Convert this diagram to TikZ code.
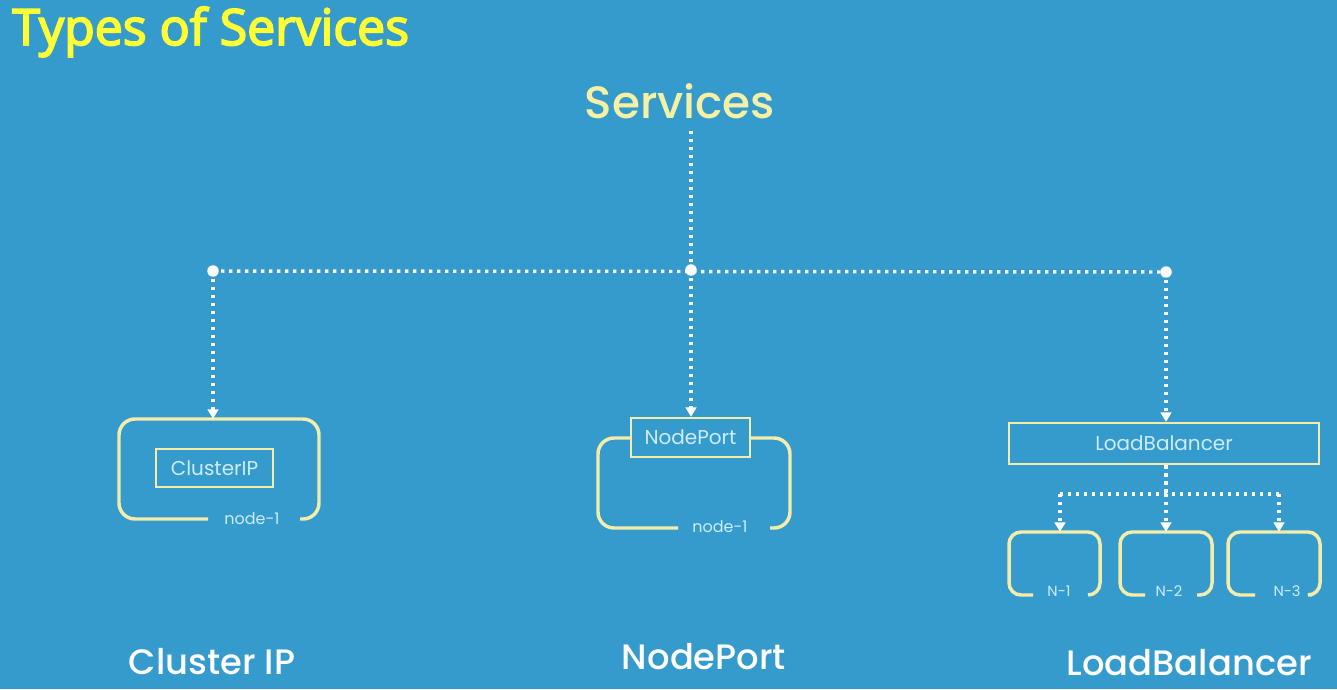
\documentclass[tikz,border=0pt]{standalone}
\usepackage{fontspec}
\setmainfont{Poppins}
\newfontfamily\medfont{Poppins Medium}
\newfontfamily\titlefont{Open Sans}[FakeBold=3.5]
\usetikzlibrary{arrows.meta}
\definecolor{bg}{RGB}{53,155,204}
\definecolor{titleyellow}{RGB}{255,255,51}
\definecolor{paleyellow}{RGB}{246,240,165}
\definecolor{outline}{RGB}{244,236,170}
\definecolor{innertext}{RGB}{205,236,250}
\begin{document}
\begin{tikzpicture}[x=0.75pt,y=-0.75pt,
  dotline/.style={white,line width=2.6pt,dash pattern=on 2.6pt off 3.4pt},
  arrowline/.style={dotline,-{Triangle[width=8pt,length=7pt]}},
  bracket/.style={outline,line width=2.6pt,rounded corners=12pt},
  smallbracket/.style={outline,line width=2.6pt,rounded corners=9pt},
  innerbox/.style={draw=outline,line width=1.8pt,text=innertext,inner sep=0pt,font=\fontsize{15}{16}\selectfont},
  ghost/.style={inner sep=0pt,draw=none},
  smalllabel/.style={text=innertext,inner sep=0pt,font=\fontsize{12}{13}\selectfont},
  tinylabel/.style={text=innertext,inner sep=0pt,font=\fontsize{11}{12}\selectfont},
  biglabel/.style={text=white,inner sep=0pt,font=\medfont\fontsize{26.5}{28}\selectfont},
  jdot/.style={white}
]
\fill[bg] (0,0) rectangle (1337,689);
\useasboundingbox (0,0) rectangle (1337,689);

% titles
\node[anchor=base west,text=titleyellow,inner sep=0pt,font=\titlefont\fontsize{37.5}{39}\selectfont] (title) at (12,45) {Types of Services};
\node[anchor=base,text=paleyellow,inner sep=0pt,font=\medfont\fontsize{34}{36}\selectfont] (services) at (680,118) {Services};

% junctions
\coordinate (jl) at (213,271);
\coordinate (jc) at (691,270);
\coordinate (jr) at (1166,272);

% ClusterIP
\node[ghost,minimum width=150pt,minimum height=75pt] (cl) at (219,469) {};
\draw[bracket] (208,519) -- (119,519) -- (119,419) -- (319,419) -- (319,519) -- (300,519);
\node[innerbox,minimum width=87.75pt,minimum height=28.5pt] (clip) at (214.5,468) {ClusterIP};
\node[smalllabel] (cln) at (252,519) {node-1};

% NodePort
\node[ghost,minimum width=144pt,minimum height=67.5pt] (np) at (694,483) {};
\node[innerbox,minimum width=89.25pt,minimum height=29.25pt] (npbox) at (690.5,437.5) {NodePort};
\draw[bracket] (678,528) -- (598,528) -- (598,438) -- (npbox.west |- 0,438);
\draw[bracket] (npbox.east |- 0,438) -- (790,438) -- (790,528) -- (770,528);
\node[smalllabel] (npn) at (720,527) {node-1};

% LoadBalancer
\node[innerbox,minimum width=232.5pt,minimum height=30.75pt] (lb) at (1164,443.5) {LoadBalancer};
\node[ghost,minimum width=68.25pt,minimum height=47.25pt] (n1) at (1054.5,563.5) {};
\node[ghost,minimum width=69pt,minimum height=47.25pt] (n2) at (1166,563.5) {};
\node[ghost,minimum width=69pt,minimum height=47.25pt] (n3) at (1274,563.5) {};
\draw[smallbracket] (1033,595) -- (1009,595) -- (1009,532) -- (1100,532) -- (1100,595) -- (1088,595);
\draw[smallbracket] (1145,595) -- (1120,595) -- (1120,532) -- (1212,532) -- (1212,595) -- (1197,595);
\draw[smallbracket] (1255,595) -- (1228,595) -- (1228,532) -- (1320,532) -- (1320,595) -- (1312,595);
\node[tinylabel] (n1l) at (1059,591) {N-1};
\node[tinylabel] (n2l) at (1169,591) {N-2};
\node[tinylabel] (n3l) at (1287,591) {N-3};

% connectors
\draw[dotline] (services.south -| jc) ++(0,12) -- (jc);
\draw[dotline] (jl) -- (jr);
\draw[arrowline] (jl) -- (jl |- cl.north);
\draw[arrowline] (jc) -- (jc |- npbox.north);
\draw[arrowline] (jr) -- (jr |- lb.north);
\fill[jdot] (jl) circle (4.3pt);
\fill[jdot] (jc) circle (4.3pt);
\fill[jdot] (jr) circle (4.3pt);

\coordinate (lbj) at (1166,494);
\coordinate (lbl) at (1060,494);
\coordinate (lbr) at (1279,494);
\draw[dotline] (lb.south -| lbj) -- (lbj);
\draw[dotline] (lbl) -- (lbr);
\draw[arrowline] (lbl) -- (lbl |- n1.north);
\draw[arrowline] (lbj) -- (lbj |- n2.north);
\draw[arrowline] (lbr) -- (lbr |- n3.north);

% bottom labels
\node[biglabel] (l1) at (212,662) {Cluster IP};
\node[biglabel] (l2) at (704,657) {NodePort};
\node[biglabel] (l3) at (1189,663) {LoadBalancer};
\end{tikzpicture}
\end{document}
